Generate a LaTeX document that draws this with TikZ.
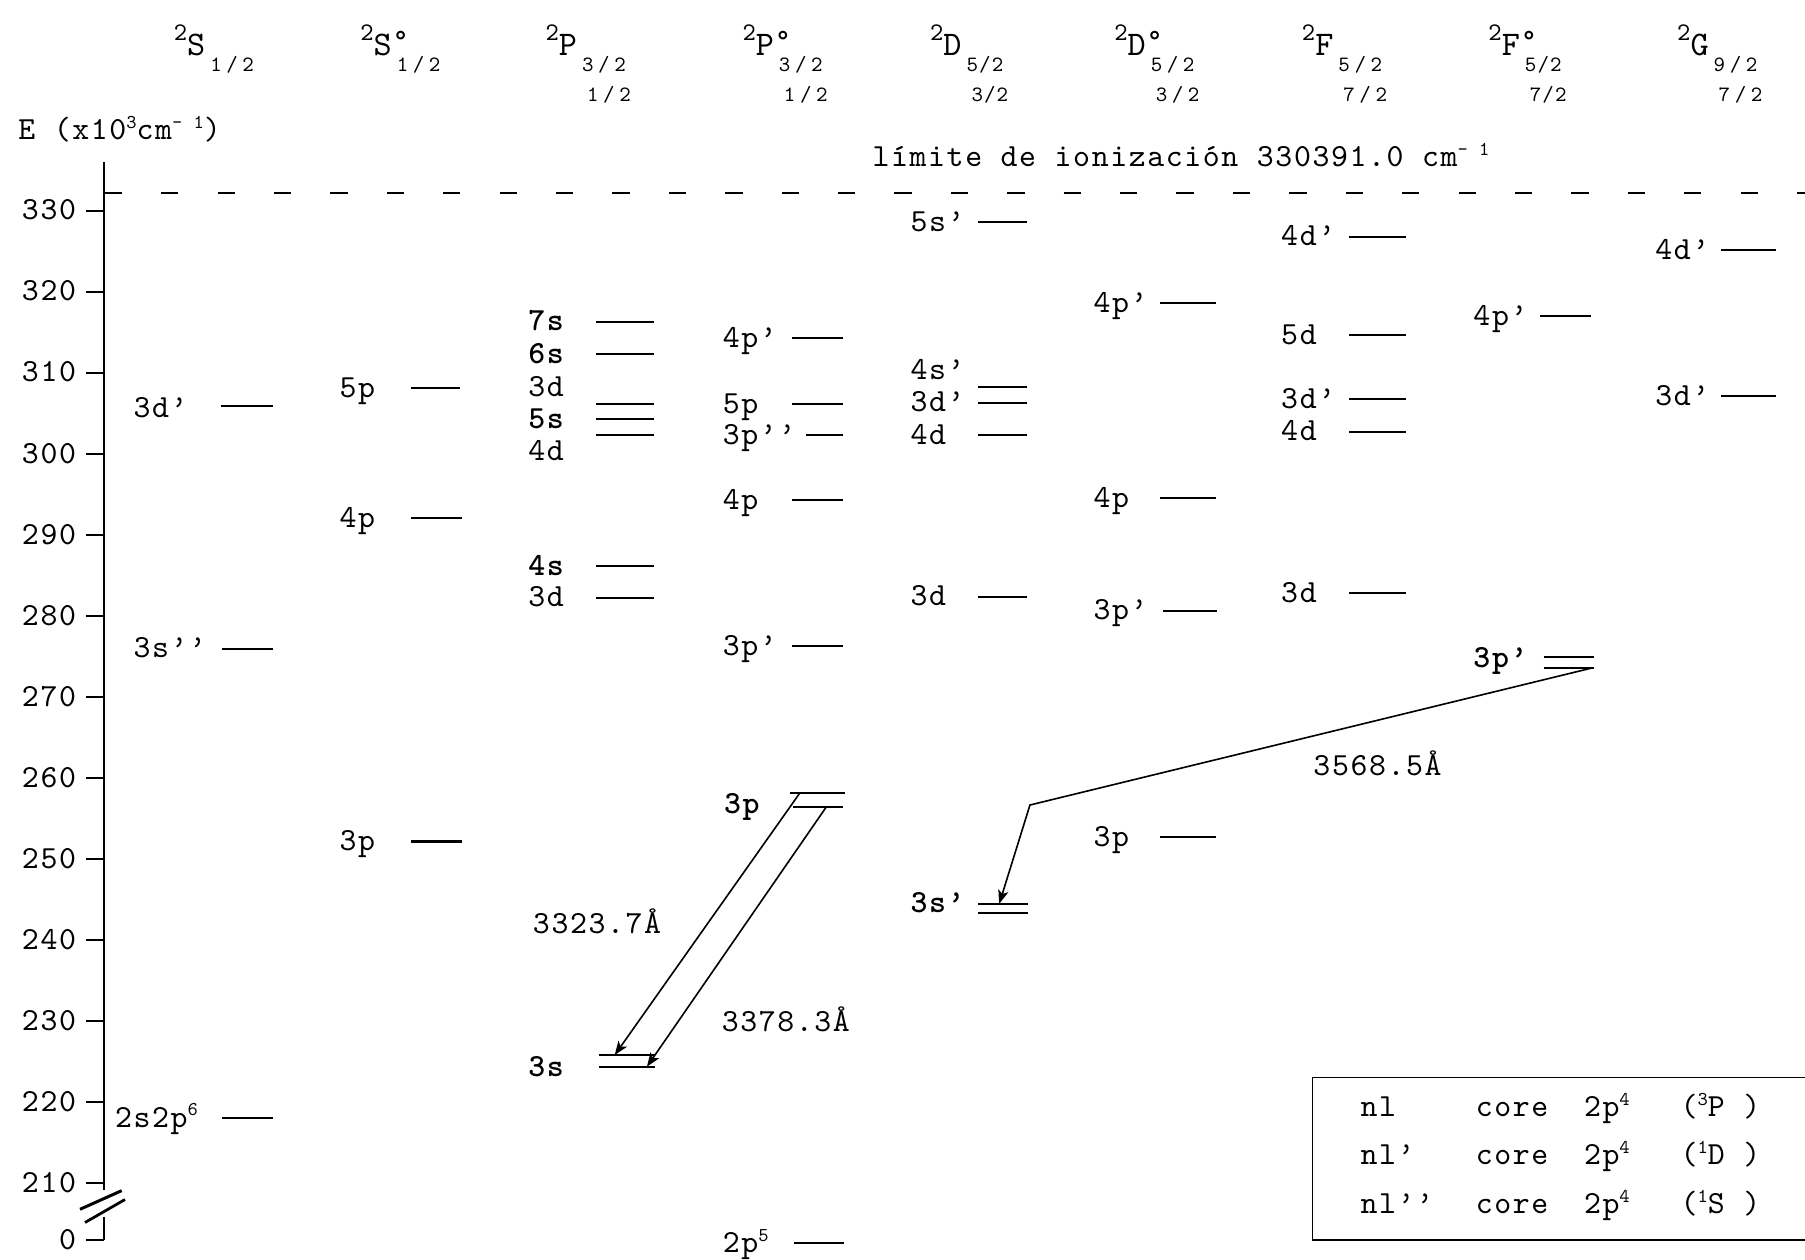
\documentclass[tikz,border=0pt]{standalone}
\usepackage{fontspec}
\setmainfont{lmmono10-regular.otf}[LetterSpace=5, BoldFont=lmmonolt10-bold.otf]
\usetikzlibrary{arrows.meta}
\newcommand\supx[1]{\raisebox{4.8pt}{\fontsize{8.5}{8.5}\selectfont #1}}
\newcommand\hsupT[1]{\raisebox{6.5pt}{\fontsize{11}{11}\selectfont #1}}
\newcommand\hsubT[1]{\kern2.2pt\raisebox{-7pt}{\fontsize{9.5}{9.5}\selectfont #1}}
\newcommand\hdeg{\rlap{\kern0.5pt\raisebox{2.5pt}{\fontsize{13}{13}\selectfont °}}}
\newcommand\hsl{\hspace{2pt}/\hspace{2pt}}
\tikzset{
  every node/.style={inner sep=0pt, outer sep=0pt},
  lbl/.style={anchor=base west, font=\fontsize{14}{16}\selectfont},
  blbl/.style={anchor=base west, font=\fontsize{14}{16}\selectfont\bfseries},
  tlbl/.style={anchor=base east, font=\fontsize{14}{16}\selectfont},
  hlet/.style={anchor=base west, font=\fontsize{15}{16}\selectfont},
  hsub/.style={anchor=base west, font=\fontsize{9.5}{9.5}\selectfont},
  level/.style={line width=0.9pt},
  axisline/.style={line width=0.8pt},
  trans/.style={line width=0.7pt, -{Stealth[length=6pt,width=4.5pt,inset=1.5pt]}},
  ionline/.style={line width=0.9pt, dash pattern=on 7.5pt off 17pt},
}
\newcommand\Lev[7]{%
  \node[lbl] (#1) at (#2,#3+8) {#7};
  \draw[level] (#4,#6) -- (#5,#6);}
\newcommand\BLev[7]{%
  \node[blbl] (#1) at (#2,#3+8) {#7};
  \draw[level] (#4,#6) -- (#5,#6);}
\begin{document}
\begin{tikzpicture}[x=0.5pt,y=-0.5pt]
\useasboundingbox (0,0) rectangle (1568,1094);

% ---------- column headers ----------
\node[hlet] (h1) at (151,48) {\hsupT{2}S\hsubT{1\hsl 2}};
\node[hlet] (h2) at (313,48) {\hsupT{2}S\hdeg\hsubT{1\hsl 2}};
\node[hlet] (h3) at (474,48) {\hsupT{2}P\hsubT{3\hsl 2}};
\node[hsub] (h3s) at (510,88) {1\hsl 2};
\node[hlet] (h4) at (645,48) {\hsupT{2}P\hdeg\hsubT{3\hsl 2}};
\node[hsub] (h4s) at (681,88) {1\hsl 2};
\node[hlet] (h5) at (808,48) {\hsupT{2}D\hsubT{5/2}};
\node[hsub] (h5s) at (844,88) {3/2};
\node[hlet] (h6) at (968,48) {\hsupT{2}D\hdeg\hsubT{5\hsl 2}};
\node[hsub] (h6s) at (1004,88) {3\hsl 2};
\node[hlet] (h7) at (1131,48) {\hsupT{2}F\hsubT{5\hsl 2}};
\node[hsub] (h7s) at (1167,88) {7\hsl 2};
\node[hlet] (h8) at (1293,48) {\hsupT{2}F\hdeg\hsubT{5/2}};
\node[hsub] (h8s) at (1329,88) {7/2};
\node[hlet] (h9) at (1457,48) {\hsupT{2}G\hsubT{9\hsl 2}};
\node[hsub] (h9s) at (1493,88) {7\hsl 2};

% ---------- axis ----------
\node[lbl] (elabel) at (16,121) {E (x10\supx{3}cm\supx{- 1})};
\coordinate (axtop) at (90,141);
\coordinate (axbrkA) at (90,1034);
\coordinate (axbrkB) at (90,1057);
\coordinate (axbot) at (90,1077);
\draw[axisline] (axtop) -- (axbrkA);
\draw[axisline] (axbrkB) -- (axbot);
\draw[line width=1.3pt] (69.5,1050.5) -- (105.7,1034.3);
\draw[line width=1.2pt] (73.8,1062) -- (108.6,1042);
\foreach \v in {330,320,...,210}{
  \draw[axisline] (75,{183+(330-\v)*7.04}) -- (90,{183+(330-\v)*7.04});
  \node[tlbl] (t\v) at (66,{183+(330-\v)*7.04+8}) {\v};
}
\draw[axisline] (75,1077) -- (axbot);
\node[tlbl] (t0) at (66,1085) {0};

% ---------- ionization limit ----------
\draw[ionline] (91,168) -- (1568,168);
\node[lbl] (ion) at (758,145) {límite de ionización 330391.0 cm\supx{- 1}};

% ---------- 2S ----------
\Lev{sA}{116}{355}{192}{237}{353}{3d’}
\Lev{sB}{116}{563}{193}{237}{564}{3s’’}
\Lev{sC}{100}{971}{193}{237}{971}{2s2p\supx{6}}

% ---------- 2S° ----------
\Lev{soA}{295}{337.3}{357}{400}{337.3}{5p}
\Lev{soB}{295}{450.3}{357}{401}{450.3}{4p}
\Lev{soC}{295}{731}{357}{401}{731}{3p}

% ---------- 2P ----------
\BLev{pA}{459}{279.4}{518}{568}{279.4}{7s}
\BLev{pB}{459}{307.8}{518}{568}{307.8}{6s}
\node[lbl] (pC) at (459,344) {3d};
\node[blbl] (pD) at (459,372.3) {5s};
\node[lbl] (pE) at (459,400.4) {4d};
\draw[level] (518,351) -- (568,351);
\draw[level] (518,364.3) -- (568,364.3);
\draw[level] (518,378) -- (568,378);
\BLev{pF}{459}{491.7}{518}{568}{491.7}{4s}
\Lev{pG}{459}{519.2}{518}{568}{519.2}{3d}
\node[blbl] (p3s) at (459,935) {3s};
\draw[level] (520,916.5) coordinate (p3sAl) -- (569,916.5) coordinate (p3sAr);
\draw[level] (520,926.6) coordinate (p3sBl) -- (569,926.6) coordinate (p3sBr);

% ---------- 2P° ----------
\Lev{poA}{628}{293.9}{688}{732}{293.9}{4p’}
\Lev{poB}{628}{351}{688}{732}{351}{5p}
\Lev{poC}{628}{378}{700}{732}{378}{3p’’}
\Lev{poD}{628}{434.3}{688}{732}{434.3}{4p}
\Lev{poE}{628}{561.2}{688}{732}{561.2}{3p’}
\node[blbl] (po3p) at (629,707) {3p};
\draw[level] (686,688.6) coordinate (po3pAl) -- (734,688.6) coordinate (po3pAr);
\draw[level] (689,700.7) coordinate (po3pBl) -- (732,700.7) coordinate (po3pBr);
\Lev{poF}{628}{1080}{690}{733}{1080}{2p\supx{5}}

% ---------- 2D ----------
\Lev{dA}{791}{193}{850}{892}{193}{5s’}
\node[lbl] (dB) at (791,329.4) {4s’};
\node[lbl] (dC) at (791,357.5) {3d’};
\draw[level] (850,335.9) -- (892,335.9);
\draw[level] (850,349.8) -- (892,349.8);
\Lev{dD}{791}{378}{850}{892}{378}{4d}
\Lev{dE}{791}{518.3}{850}{892}{518.3}{3d}
\node[blbl] (d3s) at (791,793) {3s’};
\draw[level] (850,785.2) coordinate (d3sAl) -- (893,785.2) coordinate (d3sAr);
\draw[level] (850,793.3) coordinate (d3sBl) -- (893,793.3) coordinate (d3sBr);

% ---------- 2D° ----------
\Lev{doA}{950}{263.5}{1008}{1056}{263.5}{4p’}
\Lev{doB}{950}{432.5}{1008}{1056}{432.5}{4p}
\Lev{doC}{950}{530.5}{1010}{1057}{530.5}{3p’}
\Lev{doD}{950}{727}{1008}{1056}{727}{3p}

% ---------- 2F ----------
\Lev{fA}{1113}{205.6}{1172}{1221}{205.6}{4d’}
\Lev{fB}{1113}{291}{1172}{1221}{291}{5d}
\Lev{fC}{1113}{346.9}{1172}{1221}{346.9}{3d’}
\Lev{fD}{1113}{375}{1172}{1221}{375}{4d}
\Lev{fE}{1113}{515.4}{1172}{1221}{515.4}{3d}

% ---------- 2F° ----------
\Lev{foA}{1280}{274.5}{1338}{1382}{274.5}{4p’}
\node[blbl] (fo3p) at (1280,580) {3p’};
\draw[level] (1341,570.4) coordinate (fo3pAl) -- (1385,570.4) coordinate (fo3pAr);
\draw[level] (1341,580.5) coordinate (fo3pBl) -- (1385,580.5) coordinate (fo3pBr);

% ---------- 2G ----------
\Lev{gA}{1438}{217.2}{1495}{1543}{217.2}{4d’}
\Lev{gB}{1438}{344}{1495}{1543}{344}{3d’}

% ---------- transitions ----------
\coordinate (T1a) at (695,688.6);
\coordinate (T1b) at (534,916.5);
\draw[trans] (T1a) -- (T1b);
\coordinate (T2a) at (718,700.7);
\coordinate (T2b) at (562,926.6);
\draw[trans] (T2a) -- (T2b);
\coordinate (T3a) at (1382,580.5);
\coordinate (T3k) at (894.7,699.3);
\coordinate (T3b) at (868,785.2);
\draw[trans] (T3a) -- (T3k) -- (T3b);
\node[lbl] (w1) at (463,811) {3323.7Å};
\node[lbl] (w2) at (627,896) {3378.3Å};
\node[lbl] (w3) at (1141,674) {3568.5Å};

% ---------- legend ----------
\draw[line width=0.6pt] (1580,936) -- (1140,936) -- (1140,1077) -- (1580,1077);
\node[lbl] (n1) at (1182,970) {nl};
\node[lbl] (c1) at (1282,970) {core};
\node[lbl] (q1) at (1376,970) {2p\supx{4}};
\node[lbl] (r1) at (1460,970) {(\supx{3}P )};
\node[lbl] (n2) at (1182,1012) {nl’};
\node[lbl] (c2) at (1282,1012) {core};
\node[lbl] (q2) at (1376,1012) {2p\supx{4}};
\node[lbl] (r2) at (1460,1012) {(\supx{1}D )};
\node[lbl] (n3) at (1182,1054) {nl’’};
\node[lbl] (c3) at (1282,1054) {core};
\node[lbl] (q3) at (1376,1054) {2p\supx{4}};
\node[lbl] (r3) at (1460,1054) {(\supx{1}S )};
\end{tikzpicture}
\end{document}
